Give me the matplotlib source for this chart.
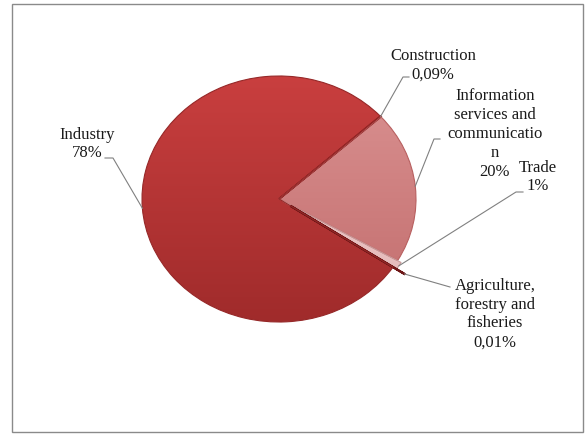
import matplotlib.pyplot as plt
import numpy as np
from matplotlib.colors import LinearSegmentedColormap
from matplotlib.patches import Rectangle

plt.rcParams["font.family"] = ["Liberation Serif", "DejaVu Serif"]

# sectors in drawing order (clockwise from the top-right boundary)
sectors = ["Construction", "Information services and communication", "Trade",
           "Agriculture, forestry and fisheries", "Industry"]
shares = [0.09, 20.0, 1.0, 0.01, 78.9]
share_labels = ["0,09%", "20%", "1%", "0,01%", "78%"]
# names wrapped the way the original chart wraps them
wrapped_names = ["Construction", "Information\nservices and\ncommunicatio\nn", "Trade",
                 "Agriculture,\nforestry and\nfisheries", "Industry"]

explode = [0.0, 0.0, 0.03, 0.1, 0.0]
grad_colors = [("#a83232", "#922626"), ("#dc9494", "#c06a6a"), ("#f3d6d6", "#e2b4b4"),
               ("#8a2020", "#7a1818"), ("#cb4040", "#9e2a2a")]
edge_colors = ["#8e2222", "#b86060", "#c89a9a", "#6e1616", "#962828"]

# label layout in pixel coords (x, y from top-left)
label_pos = [(433, 65), (495, 134), (538, 177), (495, 314), (87, 144)]
leader_pts = [[(403, 78), (409, 78)], [(434, 140), (440, 140)],
              [(516, 193), (523, 193)], [(450, 288)], [(113, 159), (105, 159)]]
line_pitch = 18.8

W, H = 588, 435
fig = plt.figure(figsize=(W / 100, H / 100), dpi=100)

# pie axes: ellipse centred at (279, 200), radii 137 x 123 px
cx, cy, rx, ry, pad = 279, 200, 137, 123, 1.2
ax = fig.add_axes([(cx - rx * pad) / W, 1 - (cy + ry * pad) / H,
                   2 * rx * pad / W, 2 * ry * pad / H])
wedges, _ = ax.pie(shares, startangle=42.3, counterclock=False, explode=explode,
                   radius=1, wedgeprops=dict(linewidth=0.8))

grad = np.linspace(0, 1, 256).reshape(-1, 1)
for w, (ctop, cbot), ec in zip(wedges, grad_colors, edge_colors):
    cmap = LinearSegmentedColormap.from_list("g", [ctop, cbot])
    im = ax.imshow(grad, extent=(-1.1, 1.1, -1.1, 1.1), cmap=cmap, origin="upper",
                   aspect="auto", zorder=0.5)
    im.set_clip_path(w)
    w.set_facecolor("none")
    w.set_edgecolor(ec)
# thin slices show as lines
wedges[0].set_linewidth(1.4)
wedges[3].set_linewidth(1.6)

ax.set_xlim(-pad, pad)
ax.set_ylim(-pad, pad)
ax.set_aspect("auto")
ax.axis("off")

# overlay axes in pixel coordinates
ov = fig.add_axes([0, 0, 1, 1], zorder=5)
ov.set_xlim(0, W)
ov.set_ylim(H, 0)
ov.axis("off")
ov.patch.set_alpha(0)

ov.add_patch(Rectangle((12, 5), 571, 428, fill=False, ec="#8a8a8a", lw=1.0))

to_ov = ov.transData.inverted()
for w, name, pct, (tx, ty), pts in zip(wedges, wrapped_names, share_labels,
                                         label_pos, leader_pts):
    tm = np.deg2rad((w.theta1 + w.theta2) / 2)
    px = w.center[0] + w.r * np.cos(tm)
    py = w.center[1] + w.r * np.sin(tm)
    ax_pt = to_ov.transform(ax.transData.transform((px, py)))
    xs = [ax_pt[0]] + [p[0] for p in pts]
    ys = [ax_pt[1]] + [p[1] for p in pts]
    ov.plot(xs, ys, color="#808080", lw=0.8)
    lines = (name + "\n" + pct).split("\n")
    n = len(lines)
    for k, line in enumerate(lines):
        ov.text(tx, ty + (k - (n - 1) / 2) * line_pitch, line, ha="center",
                va="center", fontsize=12, color="#1a1a1a")

fig.savefig("out.png", dpi=100)
